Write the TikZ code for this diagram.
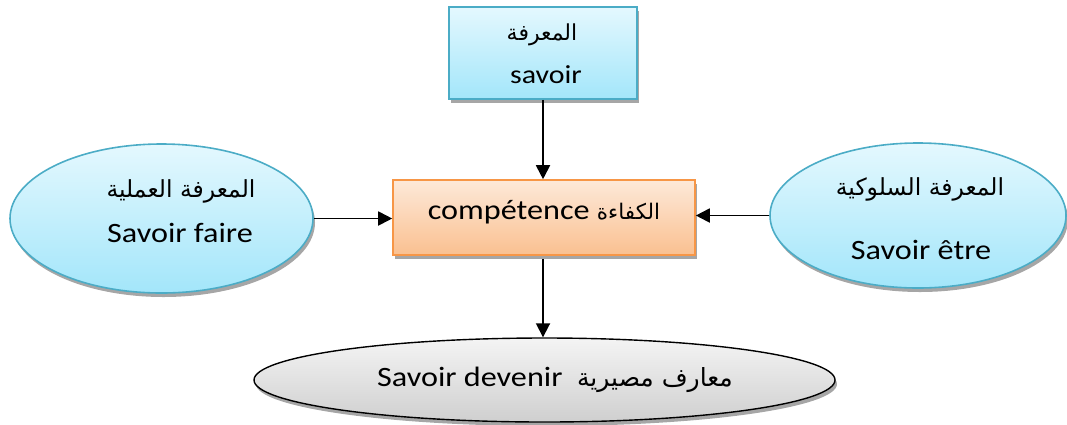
\documentclass[tikz,border=0pt]{standalone}
\usepackage{fontspec}
\setmainfont{Carlito}[FakeStretch=1.15]
\newfontfamily\arabicfont[Script=Arabic]{DejaVu Sans}
\TeXXeTstate=1
\usetikzlibrary{shapes.geometric,shadows,arrows.meta}

\definecolor{boxblue}{HTML}{4BACC6}
\definecolor{blueTop}{HTML}{E4F8FE}
\definecolor{blueBot}{HTML}{A3E6FA}
\definecolor{boxorange}{HTML}{F79646}
\definecolor{orangeTop}{HTML}{FDE9D9}
\definecolor{orangeBot}{HTML}{FAC090}
\definecolor{greyTop}{HTML}{F4F4F4}
\definecolor{greyBot}{HTML}{CFCFCF}
\definecolor{shadowgrey}{HTML}{A6A6A6}

% Arabic font at a given size
\newcommand{\arsize}[1]{\arabicfont\fontsize{#1}{#1}\selectfont}

\tikzset{
  softshadow/.style={drop shadow={shadow xshift=2pt, shadow yshift=-4pt, fill=shadowgrey, opacity=1}},
  bluebox/.style={draw=boxblue, line width=1.6pt, top color=blueTop, bottom color=blueBot, softshadow, inner sep=0pt},
  orangebox/.style={draw=boxorange, line width=1.6pt, top color=orangeTop, bottom color=orangeBot, softshadow, inner sep=0pt},
  greyoval/.style={ellipse, draw=black, line width=1.4pt, top color=greyTop, bottom color=greyBot, softshadow, inner sep=0pt},
  latin/.style={font=\fontsize{28}{32}\selectfont, inner sep=0pt},
  label/.style={inner sep=0pt},
  flow/.style={-{Triangle[width=14pt,length=14pt]}, line width=1.8pt, black},
}

\begin{document}
\begin{tikzpicture}[x=1pt,y=-1pt]
\path[use as bounding box] (0,0) rectangle (1067,424);

% shapes
\node[bluebox, rectangle, minimum width=188pt, minimum height=92pt] (know) at (543,53) {};
\node[orangebox, rectangle, minimum width=302pt, minimum height=75pt] (comp) at (544,217.5) {};
\node[bluebox, ellipse, minimum width=303pt, minimum height=149pt] (doing) at (161.5,218.5) {};
\node[bluebox, ellipse, minimum width=296pt, minimum height=145pt] (being) at (918,215.5) {};
\node[greyoval, minimum width=581pt, minimum height=84pt] (becoming) at (544.5,380) {};

% labels
\node[label] (knowAr) at (542,35) {\arsize{22}\beginR المعرفة\endR};
\node[label, font=\fontsize{26}{30}\selectfont] (knowFr) at (546,75) {savoir};
\node[latin] (compT) at (544,212) {compétence {\arsize{21.5}\beginR الكفاءة\endR}};
\node[label] (doingAr) at (181,191) {\arsize{23.5}\beginR المعرفة العملية\endR};
\node[latin] (doingFr) at (180,233) {Savoir faire};
\node[label] (beingAr) at (920,189) {\arsize{23.5}\beginR المعرفة السلوكية\endR};
\node[latin] (beingFr) at (921,250) {Savoir être};
\node[latin] (becomingT) at (555,380) {Savoir devenir\ \ {\arsize{25}\beginR معارف مصيرية\endR}};

% connectors
\draw[flow] (know.south) -- (know.south |- comp.north);
\draw[flow] (doing.east) -- (doing.east -| comp.west);
\draw[flow] (being.west) -- (being.west -| comp.east);
\draw[flow] (comp.south -| know.south) ++(0,3) -- (becoming.north -| know.south);
\end{tikzpicture}
\end{document}
